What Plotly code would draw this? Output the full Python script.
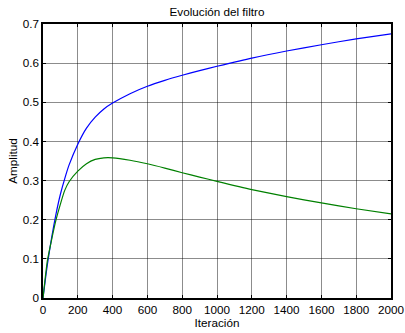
import plotly.graph_objects as go

iteraciones = [0, 10, 25, 50, 75, 100, 125, 150, 200, 250, 300, 350, 400, 500, 600, 700, 800, 900, 1000, 1200, 1400, 1600, 1800, 2000]
coef_azul = [0, 0.035, 0.085, 0.155, 0.215, 0.265, 0.305, 0.34, 0.393, 0.434, 0.462, 0.483, 0.498, 0.522, 0.541, 0.556, 0.569, 0.581, 0.592, 0.613, 0.631, 0.647, 0.662, 0.675]
coef_verde = [0, 0.04, 0.095, 0.15, 0.2, 0.24, 0.275, 0.297, 0.324, 0.343, 0.354, 0.358, 0.358, 0.352, 0.343, 0.332, 0.32, 0.309, 0.298, 0.277, 0.259, 0.243, 0.228, 0.215]

x_ticks = list(range(0, 2001, 200))
y_ticks = [0, 0.1, 0.2, 0.3, 0.4, 0.5, 0.6, 0.7]
y_labels = ["0", "0.1", "0.2", "0.3", "0.4", "0.5", "0.6", "0.7"]

fs = 11.7
fig = go.Figure()
fig.add_trace(go.Scatter(x=iteraciones, y=coef_azul, mode="lines",
                         line=dict(color="#0000ff", width=1.2, shape="spline", smoothing=0.6)))
fig.add_trace(go.Scatter(x=iteraciones, y=coef_verde, mode="lines",
                         line=dict(color="#008000", width=1.2, shape="spline", smoothing=0.6)))

font = dict(family="Liberation Sans, Arial, sans-serif", size=fs, color="#000")
grid = "rgba(0,0,0,0.45)"
fig.update_layout(
    width=405, height=333,
    margin=dict(l=43, r=14, t=24, b=35, autoexpand=False),
    paper_bgcolor="white", plot_bgcolor="white",
    showlegend=False,
    font=font,
    title=dict(text="Evolución del filtro", x=(43 + 391) / 2 / 405, xanchor="center",
               y=1 - 12 / 333, yanchor="middle", font=dict(size=fs)),
)
fig.update_xaxes(range=[0, 2000], tickvals=x_ticks, ticktext=[str(v) for v in x_ticks],
                 showgrid=True, gridcolor=grid, gridwidth=1,
                 showline=True, linecolor="black", linewidth=1.5, mirror="ticks",
                 ticks="inside", ticklen=3, tickcolor="black", automargin=False,
                 zeroline=False, tickfont=dict(size=fs),
                 title=dict(text="Iteración", standoff=1, font=dict(size=fs)))
fig.update_yaxes(range=[0, 0.7], tickvals=y_ticks, ticktext=y_labels,
                 showgrid=True, gridcolor=grid, gridwidth=1,
                 showline=True, linecolor="black", linewidth=1.5, mirror="ticks",
                 ticks="inside", ticklen=3, tickcolor="black", automargin=False,
                 zeroline=False, tickfont=dict(size=fs),
                 title=dict(text="Amplitud", standoff=3, font=dict(size=fs)))

fig.write_html("out.html")
